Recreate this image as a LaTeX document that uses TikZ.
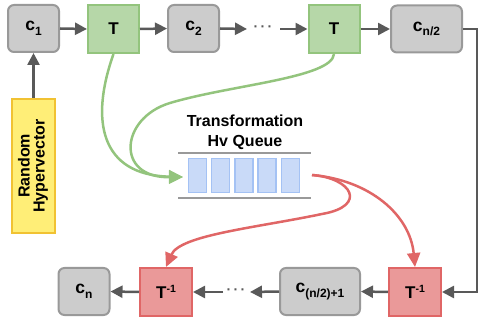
\documentclass[tikz,border=0pt]{standalone}
\usepackage{fontspec}
\setmainfont{Liberation Sans}
\usetikzlibrary{arrows.meta}

\definecolor{greyfill}{HTML}{CCCCCC}
\definecolor{greyline}{HTML}{999999}
\definecolor{arrowgrey}{HTML}{595959}
\definecolor{greenfill}{HTML}{B6D7A8}
\definecolor{greenline}{HTML}{93C47D}
\definecolor{redfill}{HTML}{EA9999}
\definecolor{redline}{HTML}{E06666}
\definecolor{yellowfill}{HTML}{FFEE77}
\definecolor{yellowline}{HTML}{F1C232}
\definecolor{cellfill}{HTML}{C9DAF8}
\definecolor{cellline}{HTML}{A4C2F4}

% c with a lowered index
\newcommand{\cidx}[1]{{\fontsize{17.5pt}{17pt}\selectfont c}\raisebox{-4.5pt}{\fontsize{12pt}{12pt}\selectfont #1}}
% inverse transform label
\newcommand{\tinv}{T\raisebox{6.5pt}{\fontsize{10.5pt}{10pt}\selectfont -1}}

\tikzset{
  every node/.style={font=\bfseries\fontsize{17pt}{18pt}\selectfont, inner sep=0pt},
  cbox/.style={draw=greyline, fill=greyfill, line width=2pt, rounded corners=6pt,
    minimum width=51pt, minimum height=47pt},
  tbox/.style={draw=greenline, fill=greenfill, line width=2pt,
    minimum width=51pt, minimum height=48pt},
  tinvbox/.style={draw=redline, fill=redfill, line width=2pt,
    minimum width=52pt, minimum height=48pt},
  randbox/.style={draw=yellowline, fill=yellowfill, line width=2pt,
    minimum width=43pt, minimum height=134pt},
  cell/.style={draw=cellline, fill=cellfill, line width=1.5pt,
    minimum width=18pt, minimum height=34pt},
  flow/.style={draw=arrowgrey, line width=2.5pt,
    -{Triangle[length=12pt,width=12pt]}},
  greenflow/.style={draw=greenline, line width=2.5pt,
    -{Triangle[length=14pt,width=13pt]}},
  redflow/.style={draw=redline, line width=2.5pt,
    -{Triangle[length=14pt,width=13pt]}},
  rail/.style={draw=greyline, line width=2.5pt},
  dotsnode/.style={text=arrowgrey, font=\bfseries\fontsize{14pt}{14pt}\selectfont},
}

\begin{document}
\begin{tikzpicture}[x=1pt, y=-1pt]
\useasboundingbox (0,0) rectangle (479,320);

% forward chain
\node[cbox]  (c1)  at (33.5,28.5) {\cidx{1}};
\node[tbox]  (t1)  at (113.5,29)  {T};
\node[cbox]  (c2)  at (193.5,28.5) {\cidx{2}};
\node[dotsnode] (dtop) at (263,29) {·\,·\,·};
\node[tbox]  (t2)  at (334,29)    {T};
\node[cbox, minimum width=71pt] (cn2) at (426.5,29) {\cidx{n/2}};

% inverse chain
\node[cbox]    (cn)  at (84,291.5)  {\cidx{n}};
\node[tinvbox] (ti1) at (166,292)   {\tinv};
\node[dotsnode] (dbot) at (236,292) {·\,·\,·};
\node[cbox, minimum width=80pt] (cm) at (320,291.5) {\cidx{(n/2)+1}};
\node[tinvbox] (ti2) at (415,292)   {\tinv};

% seed vector
\node[randbox, align=center] (rand) at (33.5,166)
  {\rotatebox{90}{\fontsize{16pt}{18pt}\selectfont\begin{tabular}{@{}c@{}}Random\\[-3pt]Hypervector\end{tabular}}};

% transformation queue
\node[align=center, font=\bfseries\fontsize{16pt}{20pt}\selectfont] (qtitle) at (245,132)
  {Transformation\\Hv Queue};
\coordinate (railA1) at (178,153);
\coordinate (railA2) at (311,153);
\coordinate (railB1) at (178,198);
\coordinate (railB2) at (311,198);
\draw[rail] (railA1) -- (railA2);
\draw[rail] (railB1) -- (railB2);
\foreach \k in {0,...,4} {
  \node[cell] (cell\k) at ({197.5+23.2*\k},175.5) {};
}
\coordinate (qin)  at (183,177);
\coordinate (qout) at (312,175);

% chain connectors
\coordinate (gapA) at (247,29);
\coordinate (gapB) at (280,29);
\coordinate (gapC) at (250,292);
\coordinate (gapD) at (223,292);
\coordinate (turnA) at (477,29);
\coordinate (turnB) at (477,292);

\draw[flow] (rand.north) -- (c1.south);
\draw[flow] (c1.east) -- (t1.west);
\draw[flow] (t1.east) -- (c2.west);
\draw[flow] (c2.east) -- (gapA);
\draw[flow] (gapB) -- (t2.west);
\draw[flow] (t2.east) -- (cn2.west);
\draw[flow] (cn2.east) -- (turnA) -- (turnB) -- (ti2.east);
\draw[flow] (ti2.west) -- (cm.east);
\draw[flow] (cm.west) -- (gapC);
\draw[flow] (gapD) -- (ti1.east);
\draw[flow] (ti1.west) -- (cn.east);

% transforms pushed into the queue
\draw[greenflow] (t1.south) .. controls (90,120) and (100,175) .. (qin);
\draw[greenflow] (t2.south) .. controls (332,78) and (230,85) .. (170,103)
  .. controls (120,118) and (115,178) .. (qin);

% transforms popped for the inverse chain
\draw[redflow] (qout) .. controls (370,180) and (410,215) .. (ti2.north);
\draw[redflow] (qout) .. controls (352,178) and (368,206) .. (322,214)
  .. controls (255,228) and (180,235) .. (ti1.north);
\end{tikzpicture}
\end{document}
